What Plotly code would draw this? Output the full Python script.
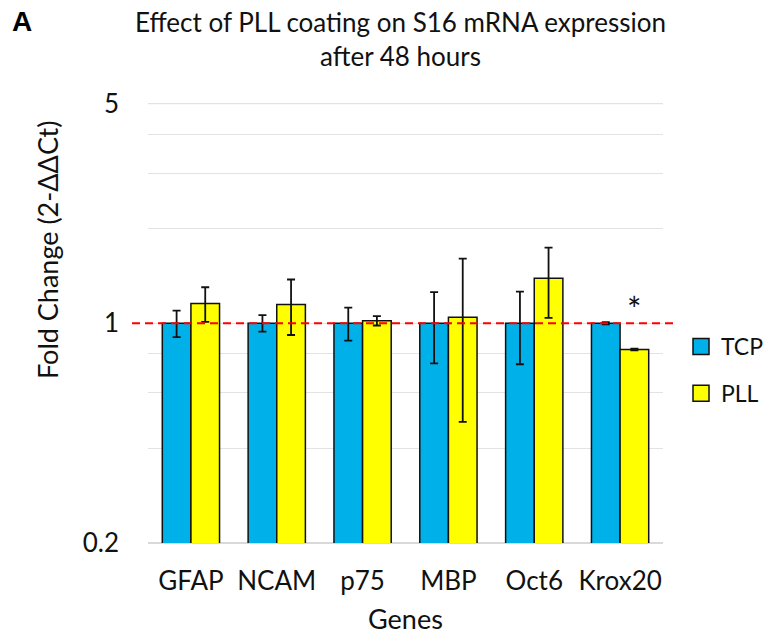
import plotly.graph_objects as go
import math

genes = ["GFAP", "NCAM", "p75", "MBP", "Oct6", "Krox20"]
tcp = [1.0, 1.0, 1.0, 1.0, 1.0, 1.0]
tcp_err = [0.097, 0.06, 0.12, 0.255, 0.26, 0.008]
pll = [1.155, 1.147, 1.018, 1.045, 1.39, 0.825]
pll_err = [0.146, 0.23, 0.035, 0.56, 0.35, 0.005]
grid_vals = [0.2, 0.4, 0.6, 0.8, 1, 2, 3, 4, 5]
grid_text = ["0.2", "", "", "", "1", "", "", "", "5"]
ref_level = 1.0

FONT = "Lato"
W, H = 764, 637
L, R, T, B = 148, 101, 103, 94
pw = W - L - R
ph = H - T - B

def px_x(p):
    return (p - L) / pw

def px_y(p):
    return (H - B - p) / ph

fig = go.Figure()
fig.add_trace(go.Bar(
    x=genes, y=tcp, name="TCP", showlegend=False,
    marker=dict(color="#00B0E8", line=dict(color="#111111", width=1.5)),
    error_y=dict(type="data", array=tcp_err, visible=True, color="#111111", thickness=1.8, width=4),
))
fig.add_trace(go.Bar(
    x=genes, y=pll, name="PLL", showlegend=False,
    marker=dict(color="#FFFF00", line=dict(color="#111111", width=1.5)),
    error_y=dict(type="data", array=pll_err, visible=True, color="#111111", thickness=1.8, width=4),
))
# legend entries
fig.add_trace(go.Scatter(x=[None], y=[None], mode="markers", name="TCP", legendgroup="a",
                         marker=dict(symbol="square", size=18, color="#00B0E8", line=dict(color="#111111", width=1.5))))
fig.add_trace(go.Scatter(x=[None], y=[None], mode="markers", name="PLL", legendgroup="b",
                         marker=dict(symbol="square", size=18, color="#FFFF00", line=dict(color="#111111", width=1.5))))

# top gridline at the axis maximum
fig.add_shape(type="line", xref="paper", yref="y", x0=0, x1=1,
              y0=grid_vals[-1], y1=grid_vals[-1],
              line=dict(color="#E3E3E3", width=1.2), layer="below")

fig.add_shape(type="line", xref="paper", yref="y", x0=px_x(132), x1=px_x(677), y0=ref_level, y1=ref_level,
              line=dict(color="#FF0000", width=2, dash="8px,5px"))

fig.add_annotation(x="Krox20", y=0.047, xref="x", yref="y", text="*", showarrow=False,
                   xshift=14, yanchor="middle", font=dict(family=FONT, size=34, color="#111111"))
fig.add_annotation(x=px_x(47), y=px_y(250), xref="paper", yref="paper", text="Fold Change (2-ΔΔCt)",
                   textangle=-90, showarrow=False, xanchor="center", yanchor="middle",
                   font=dict(family=FONT, size=27, color="#111111"))
fig.add_annotation(x=0.5, y=px_y(637), xref="paper", yref="paper", text="Genes",
                   xanchor="center", yanchor="bottom",
                   showarrow=False, font=dict(family=FONT, size=27, color="#111111"))
fig.add_annotation(x=px_x(22), y=px_y(21), xref="paper", yref="paper", text="<b>A</b>",
                   xanchor="center", yanchor="middle",
                   showarrow=False, font=dict(family="Liberation Sans", size=28, color="#000000"))
fig.add_annotation(x=px_x(400), y=px_y(4), xref="paper", yref="paper", yanchor="top", xanchor="center",
                   text="Effect of PLL coating on S16 mRNA expression<br>after 48 hours",
                   showarrow=False, align="center",
                   font=dict(family=FONT, size=26, color="#111111"))

fig.update_layout(
    width=W, height=H,
    margin=dict(l=L, r=R, t=T, b=B, autoexpand=False),
    paper_bgcolor="white", plot_bgcolor="white",
    barmode="group", bargap=0.333, bargroupgap=0,
    font=dict(family=FONT, color="#111111"),
    legend=dict(x=px_x(681), y=px_y(325), xanchor="left", yanchor="top",
                font=dict(family=FONT, size=23, color="#111111"),
                tracegroupgap=14, traceorder="grouped", bgcolor="rgba(0,0,0,0)"),
    xaxis=dict(showgrid=False, showline=False, ticks="", automargin=False,
               tickfont=dict(family=FONT, size=26, color="#111111"),
               ticklabelstandoff=20),
    yaxis=dict(type="log", range=[math.log10(0.2) - 0.001, math.log10(5) + 0.002],
               tickvals=grid_vals, ticktext=grid_text, automargin=False,
               showgrid=True, gridcolor="#E3E3E3", gridwidth=1.2, zeroline=False,
               showline=False, ticks="", tickfont=dict(family=FONT, size=26, color="#111111"),
               ticklabelstandoff=28),
)
fig.add_shape(type="line", xref="paper", yref="paper", x0=0, x1=1, y0=0, y1=0,
              line=dict(color="#D9D9D9", width=2), layer="below")

fig.write_html("out.html", config={"displayModeBar": False},
               post_script=["document.body.style.margin='0';document.body.style.overflow='hidden';"])
